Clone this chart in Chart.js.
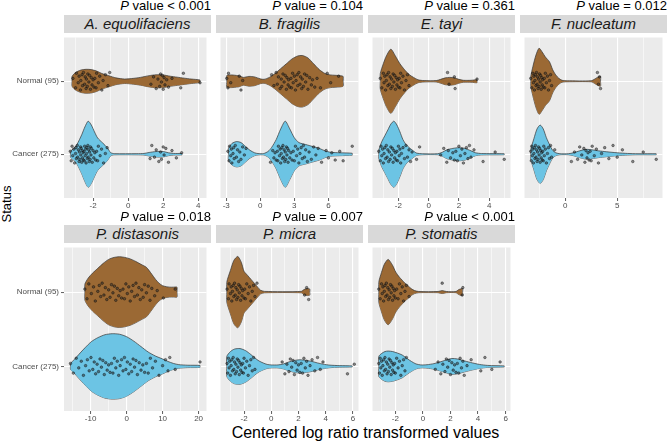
<!DOCTYPE html>
<html>
<head>
<meta charset="utf-8">
<script src="https://cdn.jsdelivr.net/npm/chart.js@4.4.1/dist/chart.umd.min.js"></script>
<style>
  body { margin: 0; background: #fff; }
  #wrap { position: relative; width: 669px; height: 443px; overflow: hidden; font-family: "Liberation Sans", Arial, sans-serif; }
  #wrap canvas { position: absolute; }
  .strip { position: absolute; height: 18px; line-height: 18px; background: #d9d9d9; color: #1a1a1a; font-size: 15px; font-style: italic; text-align: center; white-space: nowrap; }
  .pval { position: absolute; font-size: 13px; line-height: 14px; color: #000; text-align: right; white-space: nowrap; }
  .xtitle { position: absolute; left: 64px; width: 603px; top: 424px; font-size: 16px; line-height: 18px; text-align: center; color: #000; }
  .ytitle { position: absolute; left: -23px; top: 196px; width: 60px; font-size: 13px; line-height: 16px; text-align: center; color: #000; transform: rotate(-90deg); }
</style>
</head>
<body>
<div id="wrap">
  <div class="xtitle">Centered log ratio transformed values</div>
  <div class="ytitle">Status</div>
</div>
<script>
// panels, in reading order
const panelNames = ["A. equolifaciens", "B. fragilis", "E. tayi", "F. nucleatum", "P. distasonis", "P. micra", "P. stomatis"];
const pValueText = ["< 0.001", "= 0.104", "= 0.361", "= 0.012", "= 0.018", "= 0.007", "< 0.001"];
const panelTicks = [[-2, 0, 2, 4], [-3, 0, 3, 6], [-2, 0, 2, 4], [0, 5], [-10, 0, 10, 20], [-2, 0, 2, 4, 6], [-2, 0, 2, 4, 6]];
const groupLabels = ["Normal (95)", "Cancer (275)"];

// violin outlines: [clr value, density width]
const aeqNormalViolin = [[-3.2,5],[-3.0,9],[-2.7,11.5],[-2.4,12.3],[-2.1,12],[-1.8,10.5],[-1.5,8],[-1.1,5.7],[-0.7,3.5],[-0.2,2.3],[0.3,3],[0.7,4],[1.2,5.8],[1.6,6.7],[2.0,6.5],[2.4,5.2],[2.8,4.2],[3.2,3.2],[3.6,2.3],[4.1,1.3]];
const aeqCancerViolin = [[-3.29,3],[-3.1,6],[-2.92,10],[-2.65,20],[-2.47,28],[-2.28,34],[-2.1,30],[-1.92,23],[-1.74,16.7],[-1.46,11.7],[-1.19,6.7],[-1.0,1.7],[-0.8,0.6],[0.5,0.6],[0.9,0.8],[1.2,1.8],[1.6,2.8],[2.0,2.8],[2.3,1.5],[2.6,0.8],[3.07,0.7]];
const bfrNormalViolin = [[-2.95,6],[-2.5,6.5],[-2.1,6],[-1.86,5.6],[-1.5,4],[-1.0,5],[-0.5,4.5],[0,2.5],[0.33,2],[0.8,4],[1.3,8],[1.8,13],[2.3,18],[2.8,23],[3.3,26],[3.7,26.5],[4.2,24],[4.7,18],[5.2,12],[5.7,8],[6.2,6.5],[6.8,6],[7.3,5]];
const bfrCancerViolin = [[-2.8,6],[-2.5,11],[-2.1,13],[-1.7,12],[-1.3,8],[-0.9,4],[-0.5,1.5],[-0.2,0.7],[0.3,0.7],[0.7,3],[1.0,7],[1.4,15],[1.8,26],[2.2,34],[2.6,26],[3.0,17],[3.4,12],[4.0,10],[4.6,8],[5.2,6],[5.7,3.5],[6.2,2],[7.0,1.5],[8.1,1]];
const etaNormalViolin = [[-3.2,8],[-3.0,18],[-2.8,26],[-2.5,33],[-2.2,26],[-1.9,18],[-1.6,12],[-1.3,7],[-1.0,4],[-0.7,1.5],[-0.3,0.7],[0.5,0.7],[0.8,2],[1.1,3.5],[1.4,4],[1.7,3.5],[2.0,2],[2.3,1],[2.8,1],[3.2,1.5]];
const etaCancerViolin = [[-3.3,4],[-3.1,13],[-2.9,19],[-2.7,25],[-2.5,31],[-2.3,34],[-2.1,30],[-1.9,23],[-1.7,15],[-1.5,10],[-1.3,7],[-1.06,4],[-0.8,1.2],[-0.4,0.5],[0.6,0.5],[0.9,2],[1.2,4.5],[1.6,6],[2.0,6.7],[2.4,6],[2.8,3.5],[3.1,1.5],[3.5,0.7],[5.0,0.5]];
const fnuNormalViolin = [[-3.3,5],[-3.1,15],[-2.8,27],[-2.5,34],[-2.2,30],[-1.9,25],[-1.5,20],[-1.2,12],[-0.9,6.5],[-0.6,3],[-0.3,1],[0.2,0.5],[2.5,0.5],[2.8,2],[3.1,4],[3.4,5]];
const fnuCancerViolin = [[-3.3,5],[-3.0,16],[-2.7,26],[-2.4,30],[-2.1,26],[-1.8,17],[-1.5,10],[-1.2,4],[-0.9,1.5],[-0.5,0.5],[0.3,0.5],[0.8,1.5],[1.4,3.5],[2.0,5],[2.6,4.5],[3.2,3.5],[4.0,2.5],[5.0,1.5],[6.0,0.8],[7.0,0.5],[8.75,0.5]];
const pdiNormalViolin = [[-11.6,8],[-10.7,14],[-9.5,19],[-8,24],[-6.5,29],[-5,33],[-3.5,35],[-2,35.7],[-0.5,35],[1,33.5],[2.5,31],[4,28],[5.5,25],[7,18],[8,13],[9,9],[10,6.5],[11,5.5],[12,5],[13,5],[14,5]];
const pdiCancerViolin = [[-15.6,3],[-14.5,7],[-13.3,12],[-11.5,19],[-9.8,25],[-8,29],[-6,32],[-4,33],[-2,32.5],[0,30],[2,25.5],[4,20],[6,14.5],[8,10.5],[10,7.5],[11.5,5],[13,3],[14.5,1.8],[17,1.2],[20.4,1]];
const pmiNormalViolin = [[-3.27,10],[-3.0,22],[-2.75,32],[-2.46,36],[-2.2,30],[-2.0,21],[-1.75,17],[-1.5,13],[-1.25,9],[-1.0,5],[-0.8,2],[-0.5,0.7],[2.2,0.7],[2.4,2.5],[2.6,3.5],[2.83,3]];
const pmiCancerViolin = [[-3.27,10],[-3.0,15],[-2.7,17.5],[-2.3,18],[-1.9,16],[-1.5,12],[-1.2,8.5],[-0.9,5.5],[-0.6,3.5],[-0.3,2],[0,1.5],[0.5,1.5],[0.9,2.5],[1.3,4.5],[1.7,6],[2.1,6.7],[2.6,6],[3.0,5],[3.4,3.5],[3.8,2.3],[4.3,1.3],[5.0,0.8],[5.95,0.5]];
const pstNormalViolin = [[-3.2,10],[-3.0,20],[-2.8,28],[-2.52,33],[-2.2,27],[-1.96,20],[-1.7,15],[-1.5,12],[-1.3,9],[-1.08,6.5],[-0.85,3.5],[-0.6,1.5],[-0.3,0.6],[1.1,0.6],[1.4,1.5],[1.7,0.6],[2.4,0.6],[2.6,2.5],[2.88,3.5]];
const pstCancerViolin = [[-3.2,10],[-3.0,13],[-2.75,15],[-2.52,15.5],[-2.2,15],[-1.85,13.5],[-1.5,11.5],[-1.15,8],[-0.83,5],[-0.5,2.5],[-0.15,1.5],[0.3,1.7],[0.8,2.8],[1.2,4.3],[1.7,6.5],[2.1,8],[2.5,7.5],[2.9,6],[3.45,4],[4.1,2],[4.7,1],[5.9,0.5]];

// jittered sample points (clr values)
const aeqNormalPts = [-3.15,-3.0,-2.95,-2.85,-2.8,-2.72,-2.7,-2.63,-2.6,-2.55,-2.48,-2.45,-2.4,-2.38,-2.33,-2.3,-2.24,-2.2,-2.15,-2.1,-2.06,-2.0,-1.95,-1.9,-1.83,-1.8,-1.7,-1.62,-1.5,-1.43,-1.3,-1.15,-1.05,1.3,1.45,1.6,1.7,1.8,1.85,1.9,1.95,2.0,2.05,2.1,2.2,2.3,2.5,3.0,3.15,4.1];
const aeqCancerPts = [-3.3,-3.25,-3.2,-3.16,-3.1,-3.05,-3.0,-2.98,-2.95,-2.9,-2.88,-2.84,-2.8,-2.78,-2.75,-2.71,-2.7,-2.68,-2.65,-2.62,-2.6,-2.57,-2.55,-2.52,-2.5,-2.48,-2.45,-2.42,-2.4,-2.37,-2.35,-2.33,-2.3,-2.28,-2.25,-2.22,-2.2,-2.17,-2.15,-2.12,-2.1,-2.05,-2.0,-1.96,-1.9,-1.85,-1.8,-1.74,-1.7,-1.6,-1.52,-1.4,-1.3,-1.2,1.25,1.35,1.5,1.6,1.75,1.85,1.9,2.0,2.05,2.15,2.3,2.5,2.75,3.05];
const bfrNormalPts = [-2.95,-2.85,-2.8,-2.6,-1.85,-1.7,-1.55,1.0,1.2,1.4,1.5,1.6,1.75,1.85,1.9,2.0,2.1,2.2,2.3,2.35,2.45,2.5,2.6,2.7,2.75,2.85,2.9,3.0,3.1,3.15,3.25,3.3,3.4,3.5,3.55,3.65,3.7,3.8,3.9,4.0,4.1,4.2,4.35,4.5,4.6,4.8,5.0,5.3,5.9,6.2,6.9];
const bfrCancerPts = [-2.85,-2.75,-2.7,-2.6,-2.55,-2.5,-2.4,-2.35,-2.3,-2.2,-2.1,-2.0,-1.9,-1.8,-1.7,-1.55,-1.4,-1.25,0.9,1.1,1.2,1.3,1.4,1.5,1.55,1.6,1.7,1.75,1.8,1.85,1.9,1.95,2.0,2.05,2.1,2.15,2.2,2.25,2.3,2.35,2.4,2.45,2.5,2.6,2.7,2.8,2.9,3.0,3.1,3.2,3.3,3.4,3.5,3.6,3.7,3.8,3.9,4.0,4.15,4.3,4.5,4.7,4.9,5.1,5.4,5.8,6.0,6.3,6.6,7.0,7.3,8.1];
const etaNormalPts = [-3.2,-3.1,-3.0,-2.95,-2.9,-2.85,-2.8,-2.75,-2.7,-2.65,-2.6,-2.55,-2.5,-2.45,-2.4,-2.35,-2.3,-2.25,-2.2,-2.15,-2.1,-2.05,-2.0,-1.95,-1.9,-1.85,-1.8,-1.7,-1.6,-1.5,-1.4,-1.3,1.25,1.35,1.7,1.75,3.2];
const etaCancerPts = [-3.3,-3.2,-3.15,-3.1,-3.05,-3.0,-2.95,-2.9,-2.85,-2.8,-2.75,-2.7,-2.65,-2.6,-2.55,-2.5,-2.45,-2.4,-2.35,-2.3,-2.25,-2.2,-2.15,-2.1,-2.05,-2.0,-1.95,-1.9,-1.85,-1.8,-1.7,-1.6,-1.5,-1.4,-1.3,-1.2,-1.1,-0.8,-0.6,0.8,1.0,1.2,1.3,1.45,1.6,1.7,1.8,1.9,2.0,2.1,2.2,2.3,2.4,2.5,2.6,2.7,2.8,3.0,3.6,4.4,5.0];
const fnuNormalPts = [-3.3,-3.2,-3.1,-3.05,-3.0,-2.95,-2.9,-2.85,-2.8,-2.75,-2.7,-2.65,-2.6,-2.55,-2.5,-2.45,-2.4,-2.35,-2.3,-2.25,-2.2,-2.15,-2.1,-2.0,-1.95,-1.9,-1.8,-1.7,-1.6,-1.5,-1.4,-1.3,3.1,3.2,3.3,3.4];
const fnuCancerPts = [-3.3,-3.25,-3.2,-3.15,-3.1,-3.05,-3.0,-2.95,-2.9,-2.85,-2.8,-2.75,-2.7,-2.65,-2.6,-2.55,-2.5,-2.45,-2.4,-2.35,-2.3,-2.25,-2.2,-2.15,-2.1,-2.05,-2.0,-1.9,-1.8,-1.7,-1.6,-1.5,-1.4,-1.3,-1.0,0.6,0.9,1.2,1.4,1.6,1.8,1.9,2.0,2.1,2.2,2.3,2.4,2.5,2.6,2.8,3.0,3.2,3.5,3.8,4.2,4.6,5.0,5.5,6.5,7.5,8.75];
const pdiNormalPts = [-11.6,-11.0,-10.5,-9.8,-9.2,-8.7,-8.0,-7.6,-7.2,-6.8,-6.3,-5.9,-5.5,-5.0,-4.6,-4.2,-3.8,-3.4,-3.0,-2.6,-2.2,-1.8,-1.4,-1.0,-0.6,-0.2,0.2,0.6,1.0,1.4,1.8,2.2,2.6,3.0,3.4,3.8,4.2,4.6,5.0,5.5,6.0,6.5,7.0,7.8,8.5,10.2,13.5];
const pdiCancerPts = [-15.6,-14.8,-14.0,-13.3,-12.6,-12.0,-11.4,-10.9,-10.4,-9.9,-9.4,-9.0,-8.6,-8.2,-7.8,-7.4,-7.0,-6.6,-6.2,-5.8,-5.4,-5.0,-4.6,-4.2,-3.8,-3.4,-3.0,-2.6,-2.2,-1.8,-1.4,-1.0,-0.6,-0.2,0.2,0.6,1.0,1.4,1.8,2.2,2.6,3.0,3.5,4.0,4.5,5.0,5.5,6.0,6.6,7.2,8.0,9.0,10.0,10.8,11.5,12.0,13.5,20.4];
const pmiNormalPts = [-3.25,-3.15,-3.1,-3.0,-2.95,-2.9,-2.85,-2.8,-2.75,-2.7,-2.65,-2.6,-2.55,-2.5,-2.45,-2.4,-2.35,-2.3,-2.25,-2.2,-2.15,-2.1,-2.0,-1.95,-1.9,-1.8,-1.7,-1.6,-1.5,-1.4,-1.3,-1.2,-1.05,2.45,2.6,2.75];
const pmiCancerPts = [-3.25,-3.2,-3.15,-3.1,-3.05,-3.0,-2.95,-2.9,-2.85,-2.8,-2.75,-2.7,-2.65,-2.6,-2.55,-2.5,-2.45,-2.4,-2.35,-2.3,-2.25,-2.2,-2.15,-2.1,-2.05,-2.0,-1.9,-1.8,-1.7,-1.6,-1.5,-1.4,-1.3,-1.2,0.8,1.0,1.15,1.3,1.4,1.5,1.6,1.7,1.8,1.9,2.0,2.1,2.2,2.3,2.4,2.5,2.6,2.7,2.85,3.0,3.2,3.4,3.6,3.8,5.6,6.1];
const pstNormalPts = [-3.2,-3.1,-3.0,-2.95,-2.9,-2.85,-2.8,-2.75,-2.7,-2.65,-2.6,-2.55,-2.5,-2.45,-2.4,-2.35,-2.3,-2.25,-2.2,-2.15,-2.1,-2.05,-2.0,-1.9,-1.8,-1.7,-1.6,-1.5,-1.4,-1.3,-1.2,-1.0,1.4,2.85,2.9];
const pstCancerPts = [-3.2,-3.15,-3.1,-3.05,-3.0,-2.95,-2.9,-2.85,-2.8,-2.75,-2.7,-2.65,-2.6,-2.55,-2.5,-2.45,-2.4,-2.35,-2.3,-2.25,-2.2,-2.15,-2.1,-2.05,-2.0,-1.9,-1.8,-1.7,-1.6,-1.5,-1.4,-1.3,-1.2,0.9,1.1,1.3,1.45,1.6,1.7,1.8,1.9,2.0,2.1,2.2,2.3,2.4,2.5,2.6,2.7,2.8,2.9,3.0,3.2,3.5,4.2,4.5,5.0,5.6];

const normalViolins = [aeqNormalViolin, bfrNormalViolin, etaNormalViolin, fnuNormalViolin, pdiNormalViolin, pmiNormalViolin, pstNormalViolin];
const cancerViolins = [aeqCancerViolin, bfrCancerViolin, etaCancerViolin, fnuCancerViolin, pdiCancerViolin, pmiCancerViolin, pstCancerViolin];
const normalPoints = [aeqNormalPts, bfrNormalPts, etaNormalPts, fnuNormalPts, pdiNormalPts, pmiNormalPts, pstNormalPts];
const cancerPoints = [aeqCancerPts, bfrCancerPts, etaCancerPts, fnuCancerPts, pdiCancerPts, pmiCancerPts, pstCancerPts];

// vertical jitter offsets, cycled (category units)
const jitterPattern = [0.04,-0.09,0.11,-0.02,0.07,-0.12,0.01,0.09,-0.06,0.12,-0.04,0.06,-0.1,0.03,-0.07,0.1,-0.01,0.08,-0.11,0.05,-0.05,0.02,-0.08];

const DENSITY_SCALE = 1 / 75;
const NORMAL_Y = 2, CANCER_Y = 1;
const COL_LEFT = [64, 216, 368, 520];
const PANEL_W = 147;
const ROWS = [{ strip: 15, top: 33, h: 165, pval: -1.5 }, { strip: 225, top: 243, h: 168, pval: 209.5 }];
const XAXIS_H = 14;

Chart.defaults.font.family = '"Liberation Sans", Arial, sans-serif';

const bgPlugin = {
  id: "panelBg",
  beforeDraw(chart) {
    const a = chart.chartArea, ctx = chart.ctx;
    ctx.save();
    ctx.fillStyle = "#ebebeb";
    ctx.fillRect(a.left, a.top, a.right - a.left, a.bottom - a.top);
    ctx.restore();
  }
};

function violinEdge(arr, c, sign) {
  const pts = [{ x: arr[0][0], y: c }];
  arr.forEach(function (p) { pts.push({ x: p[0], y: c + sign * p[1] * DENSITY_SCALE }); });
  pts.push({ x: arr[arr.length - 1][0], y: c });
  return pts;
}

function jittered(xs, c) {
  return xs.map(function (x, k) { return { x: x, y: c + jitterPattern[k % jitterPattern.length] }; });
}

function violinSets(arr, c, fillColor) {
  const line = { type: "line", borderColor: "#333333", borderWidth: 0.7, pointRadius: 0, tension: 0.25 };
  return [
    Object.assign({}, line, { data: violinEdge(arr, c, 1), fill: "+1", backgroundColor: fillColor }),
    Object.assign({}, line, { data: violinEdge(arr, c, -1), fill: false })
  ];
}

function pointSet(xs, c) {
  return {
    type: "scatter",
    data: jittered(xs, c),
    pointRadius: 1.3,
    backgroundColor: "rgba(50,50,50,0.55)",
    borderColor: "rgba(0,0,0,0.75)",
    borderWidth: 0.5
  };
}

const wrap = document.getElementById("wrap");

panelNames.forEach(function (name, i) {
  const row = i < 4 ? 0 : 1;
  const col = i < 4 ? i : i - 4;
  const g = ROWS[row];
  const panelLeft = COL_LEFT[col];
  const canvasLeft = col === 0 ? 0 : panelLeft;
  const yAxisW = panelLeft - canvasLeft;

  // strip + p value
  const strip = document.createElement("div");
  strip.className = "strip";
  strip.style.left = panelLeft + "px";
  strip.style.top = g.strip + "px";
  strip.style.width = PANEL_W + "px";
  strip.textContent = name;
  wrap.appendChild(strip);

  const pv = document.createElement("div");
  pv.className = "pval";
  pv.style.left = (panelLeft - 60) + "px";
  pv.style.width = (PANEL_W + 60) + "px";
  pv.style.top = g.pval + "px";
  const it = document.createElement("i");
  it.textContent = "P";
  pv.appendChild(it);
  pv.appendChild(document.createTextNode(" value " + pValueText[i]));
  wrap.appendChild(pv);

  // x limits from data range, 5% expansion
  const allX = normalViolins[i].concat(cancerViolins[i]).map(function (p) { return p[0]; });
  const lo = Math.min.apply(null, allX), hi = Math.max.apply(null, allX);
  const xmin = lo - (hi - lo) * 0.05, xmax = hi + (hi - lo) * 0.05;

  const majors = panelTicks[i];
  const half = (majors[1] - majors[0]) / 2;
  let t0 = majors[0];
  while (t0 - half >= xmin) t0 -= half;
  const tickVals = [];
  for (let t = t0; t <= xmax + 1e-9; t += half) tickVals.push(+t.toFixed(6));
  const isMajor = function (v) { return Math.abs(Math.round((v - majors[0]) / half)) % 2 === 0; };

  const canvas = document.createElement("canvas");
  canvas.width = panelLeft + PANEL_W - canvasLeft;
  canvas.height = g.h + XAXIS_H;
  canvas.style.left = canvasLeft + "px";
  canvas.style.top = g.top + "px";
  wrap.appendChild(canvas);

  new Chart(canvas, {
    type: "scatter",
    data: {
      datasets: [
        pointSet(normalPoints[i], NORMAL_Y),
        pointSet(cancerPoints[i], CANCER_Y)
      ].concat(
        violinSets(normalViolins[i], NORMAL_Y, "#9b6934"),
        violinSets(cancerViolins[i], CANCER_Y, "#6cc4e4")
      )
    },
    options: {
      responsive: false,
      animation: false,
      events: [],
      layout: { padding: 0 },
      plugins: { legend: { display: false }, tooltip: { enabled: false } },
      scales: {
        x: {
          type: "linear",
          min: xmin,
          max: xmax,
          afterBuildTicks: function (s) { s.ticks = tickVals.map(function (v) { return { value: v }; }); },
          afterFit: function (s) { s.height = XAXIS_H; s.paddingLeft = 0; s.paddingRight = 0; },
          border: { display: false },
          grid: {
            color: "#ffffff",
            lineWidth: function (c) { return c.tick && isMajor(c.tick.value) ? 1.1 : 0.55; },
            drawTicks: true,
            tickLength: 3,
            tickWidth: 0.8,
            tickColor: function (c) { return c.tick && isMajor(c.tick.value) ? "#333333" : "rgba(0,0,0,0)"; }
          },
          ticks: {
            autoSkip: false,
            maxRotation: 0,
            padding: 0,
            color: "#4d4d4d",
            font: { size: 8 },
            callback: function (v) { return isMajor(v) ? String(Math.round(v)) : ""; }
          }
        },
        y: {
          type: "linear",
          min: 0.4,
          max: 2.6,
          afterBuildTicks: function (s) { s.ticks = [{ value: CANCER_Y }, { value: NORMAL_Y }]; },
          afterFit: function (s) { s.width = yAxisW; s.paddingTop = 0; s.paddingBottom = 0; },
          border: { display: false },
          grid: {
            color: "#ffffff",
            lineWidth: 1.1,
            drawTicks: col === 0,
            tickLength: 3,
            tickWidth: 0.8,
            tickColor: "#333333"
          },
          ticks: {
            display: col === 0,
            padding: 2,
            color: "#4d4d4d",
            font: { size: 8 },
            callback: function (v) { return v === NORMAL_Y ? groupLabels[0] : groupLabels[1]; }
          }
        }
      }
    },
    plugins: [bgPlugin]
  });
});
</script>
</body>
</html>
